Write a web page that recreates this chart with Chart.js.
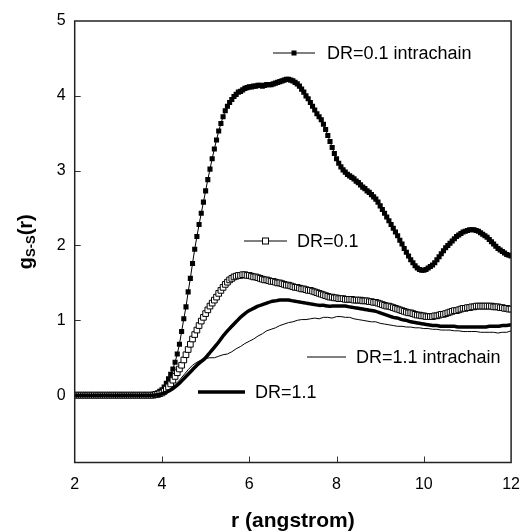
<!DOCTYPE html>
<html>
<head>
<meta charset="utf-8">
<script src="https://cdn.jsdelivr.net/npm/chart.js@4/dist/chart.umd.min.js"></script>
<style>
html,body{margin:0;padding:0;background:#fff;}
canvas{display:block;}
</style>
</head>
<body>
<canvas id="c" width="532" height="531"></canvas>
<script>
// ---- data ----
const xTickValues = [2, 4, 6, 8, 10, 12];
const yTickValues = [0, 1, 2, 3, 4, 5];

// r grid of the marker series: 2.00 .. 12.00, step 0.05
const rFine = Array.from({length: 201}, (_, i) => +(2 + i * 0.05).toFixed(2));
// r grid of the plain line series: 2.0 .. 12.0, step 0.1
const rCoarse = Array.from({length: 101}, (_, i) => +(2 + i * 0.1).toFixed(1));

const dr01Intrachain = [
  0,0,0,0,0,0,0,0,0,0, 0,0,0,0,0,0,0,0,0,0, 0,0,0,0,0,0,0,0,0,0, 0,0,0,0,0,0,
  0.01,0.02,0.03,0.05,
  0.07,0.11,0.16,0.22,0.28,0.35,0.44,0.55,0.68,0.85,
  1.02,1.18,1.38,1.56,1.76,1.95,2.12,2.28,2.43,2.58,
  2.73,2.88,3.02,3.16,3.29,3.41,3.53,3.63,3.72,3.80,
  3.86,3.91,3.95,3.99,4.02,4.05,4.06,4.08,4.10,4.11,
  4.12,4.12,4.13,4.13,4.14,4.14,4.13,4.14,4.15,4.15,
  4.15,4.16,4.17,4.18,4.19,4.20,4.21,4.22,4.22,4.21,
  4.20,4.18,4.16,4.13,4.09,4.05,4.00,3.96,3.91,3.86,
  3.81,3.76,3.72,3.68,3.62,3.55,3.47,3.39,3.31,3.23,
  3.16,3.10,3.05,3.01,2.98,2.95,2.93,2.91,2.89,2.86,
  2.84,2.81,2.78,2.76,2.73,2.71,2.68,2.65,2.62,2.58,
  2.53,2.48,2.43,2.38,2.33,2.28,2.23,2.18,2.13,2.07,
  2.02,1.96,1.91,1.86,1.81,1.77,1.73,1.70,1.68,1.67,
  1.67,1.68,1.70,1.72,1.74,1.77,1.81,1.85,1.89,1.93,
  1.97,2.00,2.03,2.06,2.09,2.12,2.14,2.16,2.18,2.19,
  2.20,2.21,2.21,2.21,2.20,2.19,2.17,2.15,2.13,2.11,
  2.08,2.05,2.02,1.99,1.96,1.94,1.92,1.90,1.88,1.87,
  1.86
];

const dr01 = [
  0,0,0,0,0,0,0,0,0,0, 0,0,0,0,0,0,0,0,0,0, 0,0,0,0,0,0,0,0,0,0, 0,0,0,0,0,0,0,
  0.005,0.01,0.02,
  0.03,0.05,0.08,0.11,0.15,0.20,0.25,0.30,0.35,0.40,
  0.47,0.54,0.61,0.68,0.75,0.81,0.87,0.93,0.99,1.04,
  1.09,1.14,1.19,1.23,1.27,1.31,1.36,1.40,1.44,1.48,
  1.51,1.54,1.56,1.58,1.59,1.60,1.60,1.61,1.61,1.60,
  1.60,1.59,1.58,1.58,1.57,1.56,1.55,1.54,1.54,1.53,
  1.52,1.52,1.51,1.50,1.50,1.49,1.48,1.47,1.47,1.46,
  1.45,1.44,1.44,1.43,1.42,1.42,1.41,1.40,1.40,1.39,
  1.38,1.37,1.36,1.35,1.34,1.33,1.32,1.31,1.31,1.30,
  1.30,1.29,1.29,1.29,1.28,1.28,1.28,1.28,1.27,1.27,
  1.27,1.27,1.26,1.26,1.26,1.25,1.25,1.24,1.24,1.23,
  1.22,1.21,1.20,1.19,1.19,1.18,1.17,1.16,1.15,1.14,
  1.13,1.12,1.11,1.10,1.10,1.09,1.08,1.07,1.07,1.06,
  1.06,1.05,1.05,1.05,1.05,1.06,1.06,1.07,1.08,1.08,
  1.09,1.10,1.11,1.12,1.13,1.13,1.14,1.15,1.16,1.16,
  1.17,1.17,1.18,1.18,1.19,1.19,1.19,1.19,1.19,1.19,
  1.19,1.19,1.18,1.18,1.18,1.17,1.17,1.16,1.16,1.15,
  1.15
];

const dr11 = [
  0,0,0,0,0,0,0,0,0,0, 0,0,0,0,0,0,0,0,0,
  0.005,
  0.02,0.04,0.07,0.11,0.16,0.22,0.28,0.34,0.40,0.45,
  0.50,0.57,0.64,0.71,0.79,0.86,0.92,0.98,1.04,1.09,
  1.13,1.16,1.19,1.21,1.23,1.25,1.26,1.27,1.27,1.27,
  1.26,1.25,1.24,1.23,1.22,1.21,1.20,1.20,1.19,1.19,
  1.19,1.19,1.19,1.18,1.17,1.16,1.15,1.14,1.13,1.12,
  1.10,1.08,1.06,1.04,1.03,1.01,1.00,0.98,0.97,0.96,
  0.95,0.94,0.93,0.93,0.92,0.92,0.92,0.92,0.91,0.91,
  0.91,0.91,0.91,0.91,0.91,0.92,0.92,0.92,0.93,0.93,
  0.94
];

const dr11Intrachain = [
  0,0,0,0,0,0,0,0,0,0, 0,0,0,0,0,0,0,0,0,
  0.005,
  0.02,0.05,0.09,0.14,0.20,0.27,0.34,0.40,0.44,0.47,
  0.49,0.50,0.50,0.52,0.54,0.55,0.58,0.62,0.65,0.69,
  0.72,0.75,0.79,0.82,0.86,0.88,0.90,0.93,0.95,0.97,
  0.98,1.00,1.01,1.01,1.02,1.03,1.02,1.04,1.04,1.03,
  1.05,1.05,1.04,1.04,1.02,1.01,1.00,0.99,0.98,0.98,
  0.96,0.95,0.94,0.93,0.92,0.92,0.91,0.91,0.90,0.90,
  0.89,0.89,0.88,0.88,0.87,0.87,0.87,0.86,0.86,0.85,
  0.85,0.85,0.85,0.84,0.84,0.84,0.84,0.83,0.84,0.84,
  0.86
];

const seriesLabels = ['DR=0.1 intrachain', 'DR=0.1', 'DR=1.1 intrachain', 'DR=1.1'];

// ---- build chart ----
const toPts = (xs, ys) => xs.map((x, i) => ({x: x, y: ys[i]}));
const FONT = "'Liberation Sans', Arial, Helvetica, sans-serif";

const insideTicksAndFrame = {
  id: 'insideTicksAndFrame',
  afterDatasetsDraw(chart) {
    const {ctx, chartArea: a, scales: {x, y}} = chart;
    ctx.save();
    ctx.strokeStyle = '#333';
    ctx.lineWidth = 1;
    ctx.beginPath();
    xTickValues.slice(1, -1).forEach(v => {
      const px = Math.round(x.getPixelForValue(v)) + 0.5;
      ctx.moveTo(px, a.bottom); ctx.lineTo(px, a.bottom - 6);
    });
    yTickValues.slice(1, -1).forEach(v => {
      const py = Math.round(y.getPixelForValue(v)) + 0.5;
      ctx.moveTo(a.left, py); ctx.lineTo(a.left + 6, py);
    });
    ctx.stroke();
    ctx.lineWidth = 1.5;
    ctx.strokeStyle = '#222';
    ctx.strokeRect(a.left, a.top, a.right - a.left, a.bottom - a.top);
    ctx.restore();
  }
};

const yTitle = {
  id: 'yTitle',
  afterDraw(chart) {
    const ctx = chart.ctx;
    const a = chart.chartArea;
    const cy = (a.top + a.bottom) / 2;
    ctx.save();
    ctx.translate(26, cy);
    ctx.rotate(-Math.PI / 2);
    ctx.fillStyle = '#000';
    ctx.textBaseline = 'middle';
    const big = "bold 20px " + FONT, small = "bold 13px " + FONT;
    ctx.font = big; const wg = ctx.measureText('g').width; const wr = ctx.measureText('(r)').width;
    ctx.font = small; const ws = ctx.measureText('S-S').width;
    let x0 = -(wg + ws + wr) / 2;
    ctx.textAlign = 'left';
    ctx.font = big; ctx.fillText('g', x0, 0);
    ctx.font = small; ctx.fillText('S-S', x0 + wg, 5);
    ctx.font = big; ctx.fillText('(r)', x0 + wg + ws, 0);
    ctx.restore();
  }
};

const inlineLegend = {
  id: 'inlineLegend',
  afterDatasetsDraw(chart) {
    const ctx = chart.ctx;
    const items = [
      {x1: 273, x2: 315, y: 53, lw: 1, mark: 'filled', tx: 327, text: seriesLabels[0]},
      {x1: 244, x2: 287, y: 241, lw: 1, mark: 'open', tx: 297, text: seriesLabels[1]},
      {x1: 307, x2: 346, y: 357, lw: 1, mark: null, tx: 356, text: seriesLabels[2]},
      {x1: 198, x2: 245, y: 392, lw: 3.5, mark: null, tx: 255, text: seriesLabels[3]}
    ];
    ctx.save();
    items.forEach(it => {
      ctx.strokeStyle = '#000';
      ctx.lineWidth = it.lw;
      ctx.beginPath(); ctx.moveTo(it.x1, it.y); ctx.lineTo(it.x2, it.y); ctx.stroke();
      const cx = (it.x1 + it.x2) / 2;
      if (it.mark === 'filled') {
        ctx.fillStyle = '#000'; ctx.fillRect(cx - 2.5, it.y - 2.5, 5, 5);
      } else if (it.mark === 'open') {
        ctx.fillStyle = '#fff'; ctx.fillRect(cx - 3, it.y - 3, 6, 6);
        ctx.lineWidth = 1; ctx.strokeRect(cx - 3, it.y - 3, 6, 6);
      }
      ctx.fillStyle = '#000';
      ctx.font = "18px " + FONT;
      ctx.textAlign = 'left';
      ctx.textBaseline = 'middle';
      ctx.fillText(it.text, it.tx, it.y + 1);
    });
    ctx.restore();
  }
};

new Chart(document.getElementById('c'), {
  type: 'line',
  data: {
    datasets: [
      {label: seriesLabels[2], data: toPts(rCoarse, dr11Intrachain), borderColor: '#000', borderWidth: 1, pointRadius: 0, tension: 0, fill: false},
      {label: seriesLabels[3], data: toPts(rCoarse, dr11), borderColor: '#000', borderWidth: 3.5, pointRadius: 0, tension: 0.3, fill: false},
      {label: seriesLabels[1], data: toPts(rFine, dr01), borderColor: '#000', borderWidth: 1, pointStyle: 'rect', pointRadius: 4, pointBorderWidth: 1, pointBorderColor: '#000', pointBackgroundColor: '#fff', tension: 0, fill: false},
      {label: seriesLabels[0], data: toPts(rFine, dr01Intrachain), borderColor: '#000', borderWidth: 1, pointStyle: 'rect', pointRadius: 3.6, pointBorderWidth: 0, pointBackgroundColor: '#000', tension: 0, fill: false}
    ]
  },
  options: {
    responsive: false,
    devicePixelRatio: 1,
    animation: false,
    parsing: true,
    layout: {padding: {top: 21, right: 15, left: 0, bottom: 0}},
    plugins: {legend: {display: false}, tooltip: {enabled: false}},
    scales: {
      x: {
        type: 'linear', min: 2, max: 12,
        afterBuildTicks: s => { s.ticks = xTickValues.map(v => ({value: v})); },
        afterFit: s => { s.height = 68.5; },
        ticks: {color: '#000', font: {family: FONT, size: 16}, padding: 12, maxRotation: 0},
        grid: {display: false, drawTicks: false},
        border: {display: false},
        title: {display: true, text: 'r (angstrom)', color: '#000', font: {family: FONT, size: 21, weight: 'bold', lineHeight: 1}, padding: {top: 0, bottom: -1}}
      },
      y: {
        type: 'linear', min: -0.9, max: 5,
        afterBuildTicks: s => { s.ticks = yTickValues.map(v => ({value: v})); },
        afterFit: s => { s.width = 74.7; },
        ticks: {color: '#000', font: {family: FONT, size: 16}, padding: 9},
        grid: {display: false, drawTicks: false},
        border: {display: false}
      }
    }
  },
  plugins: [insideTicksAndFrame, inlineLegend, yTitle]
});
</script>
</body>
</html>
